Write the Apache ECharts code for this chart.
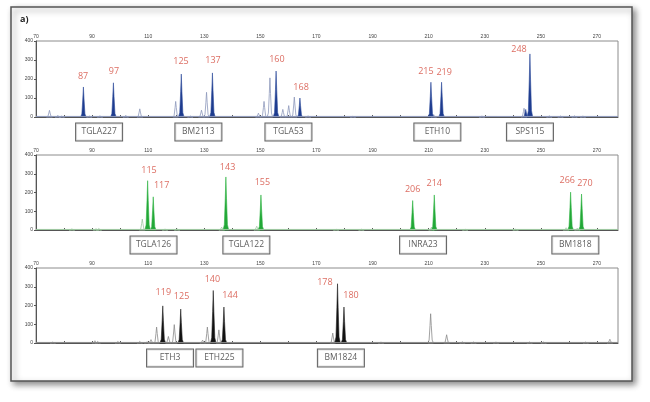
<!DOCTYPE html>
<html><head><meta charset="utf-8">
<script src="https://cdn.jsdelivr.net/npm/echarts@6/dist/echarts.min.js"></script>
<style>html,body{margin:0;padding:0;background:#fff}#c{width:650px;height:402px}</style>
</head><body><div id="c"></div><script>
// ---- axis ----
const xMin = 70, xMax = 277.5, yMax = 400;
// ---- panel 1 (blue) : [size, height] ----
const bluePeaks = [[86.9,158],[97.6,180],[121.8,226],[132.9,232],[155.6,242],[164.1,100],[210.8,183],[214.6,183],[246.1,332],[244.6,40]];
const blueStutter = [[77.8,8],[79.2,5],[74.8,35],[89,5],[92.8,6],[102,8],[107,43],[119.8,82],[125,5],[129,36],[130.8,130],[149.3,20],[151.3,82],[153.4,206],[158,40],[160.1,60],[162.1,105],[167,6],[183,4],[211.8,12],[229,5],[244,46],[253,6],[257,5],[262,6],[265,5]];
const blueLabels = [['87',86.8,213],['97',97.8,239],['125',121.7,292],['137',133.1,297],['160',155.9,303],['168',164.5,155],['215',209.0,239],['219',215.5,234],['248',242.2,355]];
const blueMarkers = [['TGLA227',92.5],['BM2113',127.9],['TGLA53',160.0],['ETH10',213.1],['SPS115',246.1]];
// ---- panel 2 (green) ----
const greenPeaks = [[109.8,263],[111.8,177],[137.7,283],[150.2,187],[204.3,157],[212.0,187],[260.6,202],[264.5,192]];
const greenStutter = [[82.8,6],[91.4,7],[92.4,8],[107.9,58],[116,5],[120.3,6],[136.2,15],[148.7,20],[177,4],[186,4],[211,15],[223,4],[241,4],[259,12],[263,10]];
const greenLabels = [['115',110.3,316],['117',114.8,240],['143',138.3,334],['155',150.7,252],['206',204.3,217],['214',212.0,249],['266',259.4,263],['270',265.7,249]];
const greenMarkers = [['TGLA126',111.9],['TGLA122',145.0],['INRA23',208.0],['BM1818',262.3]];
// ---- panel 3 (black) ----
const blackPeaks = [[115.2,198],[121.6,181],[133.2,280],[137.0,192],[177.5,316],[179.8,192]];
const blackStutter = [[76,5],[91,12],[92,8],[99.2,8],[107,8],[109.6,6],[111,18],[113,85],[117.2,35],[119.3,98],[129.4,15],[131.1,85],[135.2,70],[175.8,53],[193,5],[210.7,156],[216.4,44],[222,6],[226,5],[234,5],[246,5],[251,5],[266,5],[274.6,20]];
const blackLabels = [['119',115.4,270],['125',121.9,249],['140',132.9,341],['144',139.2,254],['178',173.0,322],['180',182.3,254]];
const blackMarkers = [['ETH3',117.8],['ETH225',135.4],['BM1824',178.7]];

const panels = [
  {peaks: bluePeaks, stutter: blueStutter, labels: blueLabels, markers: blueMarkers, fill:'#1d3b8e', edge:'#2c4a9a', light:'#8d98bb', top:41, height:76},
  {peaks: greenPeaks, stutter: greenStutter, labels: greenLabels, markers: greenMarkers, fill:'#22a737', edge:'#2db342', light:'#9cc79f', top:155, height:75},
  {peaks: blackPeaks, stutter: blackStutter, labels: blackLabels, markers: blackMarkers, fill:'#111111', edge:'#222222', light:'#8a8a8a', top:268, height:75}
];

const shape = [[-1,0],[-0.55,0.1],[-0.22,0.6],[0,1],[0.22,0.6],[0.55,0.1],[1,0]];
function peakRender(fillColor, strokeColor, filled){
  return function(params, api){
    const x = api.value(0), h = api.value(1), w = 1.0;
    const pts = shape.map(p => api.coord([x + p[0]*w, p[1]*h]));
    return {type:'polygon', shape:{points: pts},
      style:{fill: filled ? fillColor : 'rgba(255,255,255,0)', stroke: strokeColor, lineWidth: filled ? 0.6 : 0.8}};
  };
}

const grids = [], xAxes = [], yAxes = [], series = [];
panels.forEach((p, i) => {
  grids.push({left:36, top:p.top, width:582, height:p.height, show:true, borderColor:'#8c8c8c', borderWidth:1, backgroundColor:'#fff'});
  xAxes.push({type:'value', gridIndex:i, position:'top', min:xMin, max:xMax, interval:10,
    axisLine:{show:true, lineStyle:{color:'#555', width:1}},
    axisTick:{show:true, length:2, lineStyle:{color:'#555'}},
    axisLabel:{fontSize:5, color:'#444', margin:2, showMaxLabel:false,
      formatter: v => (v % 20 === 10 ? String(v) : '')},
    splitLine:{show:false}});
  yAxes.push({type:'value', gridIndex:i, min:0, max:yMax, interval:100,
    axisLine:{show:true, lineStyle:{color:'#555', width:1}},
    axisTick:{show:true, length:2, lineStyle:{color:'#555'}},
    axisLabel:{fontSize:5, color:'#444', margin:3},
    splitLine:{show:false}});
  series.push({type:'line', xAxisIndex:i, yAxisIndex:i, data:[[xMin,3],[xMax,3]], symbol:'none', silent:true,
    lineStyle:{color:p.light, width:1}});
  series.push({type:'custom', xAxisIndex:i, yAxisIndex:i, data:p.stutter, encode:{x:0,y:1},
    renderItem: peakRender(p.fill, p.light, false), silent:true});
  series.push({type:'custom', xAxisIndex:i, yAxisIndex:i, data:p.peaks, encode:{x:0,y:1},
    renderItem: peakRender(p.fill, p.edge, true), silent:true});
  series.push({type:'scatter', xAxisIndex:i, yAxisIndex:i, symbolSize:0, silent:true,
    data: p.labels.map(l => ({value:[l[1], l[2]], name:l[0]})),
    label:{show:true, position:'inside', formatter:'{b}', color:'#d3493b', fontSize:9, fontFamily:'Open Sans'}});
  series.push({type:'scatter', xAxisIndex:i, yAxisIndex:i, symbolSize:0, silent:true, clip:false,
    data: p.markers.map(m => ({value:[m[1], 0], name:m[0]})),
    label:{show:true, position:'bottom', distance:15, formatter:'{b}', color:'#333', fontSize:8.5, fontFamily:'Open Sans',
      borderColor:'#3a3a3a', borderWidth:1, backgroundColor:'#fff', width:46, height:17, lineHeight:17, align:'center', verticalAlign:'middle'}});
});

const chart = echarts.init(document.getElementById('c'), null, {renderer:'canvas'});
chart.setOption({
  animation:false,
  backgroundColor:'#ffffff',
  graphic:[
    {type:'rect', z:-10, shape:{x:11, y:7, width:621, height:374},
      style:{fill:'#fff', stroke:'#555', lineWidth:1.5, shadowBlur:6, shadowOffsetX:3, shadowOffsetY:3, shadowColor:'rgba(0,0,0,0.45)'}},
    {type:'text', left:20, top:15, style:{text:'a)', fontSize:9, fontWeight:'bold', fill:'#222', fontFamily:'Open Sans'}}
  ],
  grid: grids, xAxis: xAxes, yAxis: yAxes, series: series
});
</script></body></html>
